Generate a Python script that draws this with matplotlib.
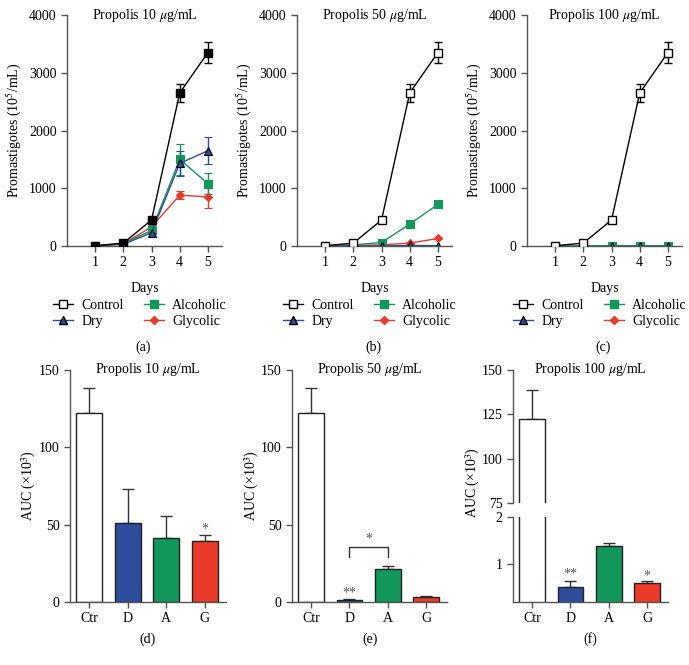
import numpy as np
import matplotlib.pyplot as plt
from matplotlib.lines import Line2D

plt.rcParams['font.family'] = 'Liberation Serif'
plt.rcParams['mathtext.fontset'] = 'stix'
plt.rcParams['font.size'] = 10

# growth curves (10^5 / mL)
days = [1, 2, 3, 4, 5]
ctrl = [5, 50, 450, 2650, 3350]
ctrl_err = [10, 20, 40, 150, 180]

dry_10 = [0, 30, 230, 1430, 1650]
dry_10_err = [5, 10, 30, 220, 230]
alc_10 = [0, 40, 270, 1500, 1080]
alc_10_err = [5, 10, 30, 270, 180]
gly_10 = [0, 40, 330, 880, 850]
gly_10_err = [5, 10, 30, 70, 190]

dry_50 = [0, 0, 0, 10, 5]
alc_50 = [0, 20, 60, 380, 720]
alc_50_err = [2, 5, 10, 25, 60]
gly_50 = [0, 10, 20, 50, 130]
gly_50_err = [1, 2, 5, 10, 15]

dry_100 = [0, 0, 0, 0, 0]
alc_100 = [0, 5, 5, 5, 5]
gly_100 = [0, 0, 0, 0, 0]

# AUC (x10^3)
groups = ['Ctr', 'D', 'A', 'G']
auc_10 = [122.5, 51, 41.5, 39.5]
auc_10_err = [16, 22, 14, 3.5]
auc_50 = [122.5, 1.5, 21.5, 3.5]
auc_50_err = [16, 0.3, 1.5, 0.3]
auc_100 = [122.5, 0.5, 1.38, 0.6]
auc_100_err = [16, 0.14, 0.06, 0.03]

BLUE = '#2E4C9C'
GREEN = '#12985A'
RED = '#E93A2A'
bar_colors = ['white', BLUE, GREEN, RED]
SPINE = '#555555'

W, H = 689, 665
fig = plt.figure(figsize=(W / 100, H / 100), dpi=100)


def box(l, t, r, b):
    return [l / W, 1 - b / H, (r - l) / W, (b - t) / H]


def style(ax):
    for s in ['top', 'right']:
        ax.spines[s].set_visible(False)
    for s in ['left', 'bottom']:
        ax.spines[s].set_color(SPINE)
        ax.spines[s].set_linewidth(1)
    ax.tick_params(direction='out', length=4, color=SPINE, width=1, labelsize=10)


def curve(ax, y, err, color, marker, ms, face=None):
    ax.errorbar(days, y, yerr=err, color=color, marker=marker, ms=ms,
                mfc=face if face else color, mec='black' if marker == '^' else color,
                mew=0.8, lw=1, capsize=3, elinewidth=1, capthick=1)


titles = ['Propolis 10 $\\mu$g/mL', 'Propolis 50 $\\mu$g/mL', 'Propolis 100 $\\mu$g/mL']
top_x = [67, 297, 527]
letters_top = ['(a)', '(b)', '(c)']
sets = [
    (dry_10, dry_10_err, alc_10, alc_10_err, gly_10, gly_10_err, 'black'),
    (dry_50, None, alc_50, alc_50_err, gly_50, gly_50_err, 'white'),
    (dry_100, None, alc_100, None, gly_100, None, 'white'),
]

for i in range(3):
    x0 = top_x[i]
    ax = fig.add_axes(box(x0, 15, x0 + 155, 246))
    style(ax)
    d, de, a, ae, g, ge, cface = sets[i]
    curve(ax, g, ge, RED, 'D', 4)
    curve(ax, a, ae, GREEN, 's', 5.5)
    curve(ax, d, de, BLUE, '^', 6)
    ax.errorbar(days, ctrl, yerr=ctrl_err, color='black', marker='s', ms=6,
                mfc=cface, mec='black', mew=1, lw=1, capsize=3, elinewidth=1,
                capthick=1, zorder=5)
    ax.set_xlim(0, 5.5)
    ax.set_ylim(0, 4000)
    ax.set_xticks(days)
    ax.set_yticks([0, 1000, 2000, 3000, 4000])
    ax.set_ylabel('Promastigotes (10$^5$/mL)')
    ax.yaxis.set_label_coords(-44 / 155, 0.5)
    ax.set_xlabel('Days')
    ax.xaxis.set_label_coords(0.5, -36 / 231)
    ax.text(0.5, 1.0, titles[i], transform=ax.transAxes, ha='center', va='center')
    for s in ax.spines.values():
        s.set_clip_on(False)
    handles = [
        Line2D([], [], color='black', marker='s', mfc='white', mec='black', ms=6, lw=1),
        Line2D([], [], color=BLUE, marker='^', mfc=BLUE, mec='black', ms=6, lw=1),
        Line2D([], [], color=GREEN, marker='s', mfc=GREEN, mec=GREEN, ms=5.5, lw=1),
        Line2D([], [], color=RED, marker='D', mfc=RED, mec=RED, ms=4, lw=1),
    ]
    fig.legend(handles, ['Control', 'Dry', 'Alcoholic', 'Glycolic'], ncol=2,
               loc='center', bbox_to_anchor=((x0 + 73) / W, 1 - 313.5 / H),
               frameon=False, handlelength=1.4, handletextpad=0.6,
               columnspacing=1.5, labelspacing=0.2, borderpad=0)
    fig.text((x0 + 76) / W, 1 - 347 / H, letters_top[i], ha='center', va='center')

xpos = np.arange(4)


def bars(ax, vals, errs):
    ax.bar(xpos, vals, width=0.67, color=bar_colors, edgecolor='#222222', lw=1, zorder=2)
    ax.errorbar(xpos, vals, yerr=[np.zeros(4), errs], fmt='none', ecolor='#333333',
                elinewidth=1, capsize=4, capthick=1, zorder=1)
    ax.set_xlim(-0.5, 3.55)


def star(ax, x, y, s):
    ax.text(x, y, s, ha='center', va='center', color='#555555', fontsize=10)


# (d)
ax = fig.add_axes(box(70, 370, 226, 602))
style(ax)
bars(ax, auc_10, auc_10_err)
ax.set_ylim(0, 150)
ax.set_yticks([0, 50, 100, 150])
ax.set_xticks(xpos)
ax.set_xticklabels(groups)
ax.set_ylabel('AUC (×10$^3$)')
ax.yaxis.set_label_coords(-32 / 156, 0.5)
ax.text(0.5, 1.0, titles[0], transform=ax.transAxes, ha='center', va='center')
star(ax, 3, 47, '*')

# (e)
ax = fig.add_axes(box(292, 370, 447, 602))
style(ax)
bars(ax, auc_50, auc_50_err)
ax.set_ylim(0, 150)
ax.set_yticks([0, 50, 100, 150])
ax.set_xticks(xpos)
ax.set_xticklabels(groups)
ax.set_ylabel('AUC (×10$^3$)')
ax.yaxis.set_label_coords(-31 / 155, 0.5)
ax.text(0.5, 1.0, titles[1], transform=ax.transAxes, ha='center', va='center')
star(ax, 1, 5.5, '**')
ax.plot([1, 1, 2, 2], [29, 35.5, 35.5, 29], color='#333333', lw=1)
star(ax, 1.5, 41, '*')

# (f) broken axis
ax_t = fig.add_axes(box(513, 370, 668, 503))
ax_b = fig.add_axes(box(513, 517, 668, 602))
for ax in (ax_t, ax_b):
    style(ax)
    bars(ax, auc_100, auc_100_err)
ax_t.set_ylim(75, 150)
ax_t.set_yticks([75, 100, 125, 150])
ax_t.spines['bottom'].set_visible(False)
ax_t.tick_params(axis='x', bottom=False, labelbottom=False)
ax_t.text(0.5, 1.0, titles[2], transform=ax_t.transAxes, ha='center', va='center')
ax_b.set_ylim(0.19, 2)
ax_b.set_yticks([1, 2])
ax_b.set_xticks(xpos)
ax_b.set_xticklabels(groups)
star(ax_b, 1, 0.78, '**')
star(ax_b, 3, 0.74, '*')
fig.text(473 / W, 1 - 483 / H, 'AUC (×10$^3$)', rotation=90, ha='center', va='center')

for lab, xc in zip(['(d)', '(e)', '(f)'], [148, 370, 590]):
    fig.text(xc / W, 1 - 639 / H, lab, ha='center', va='center')

fig.savefig('out.png', dpi=100)
